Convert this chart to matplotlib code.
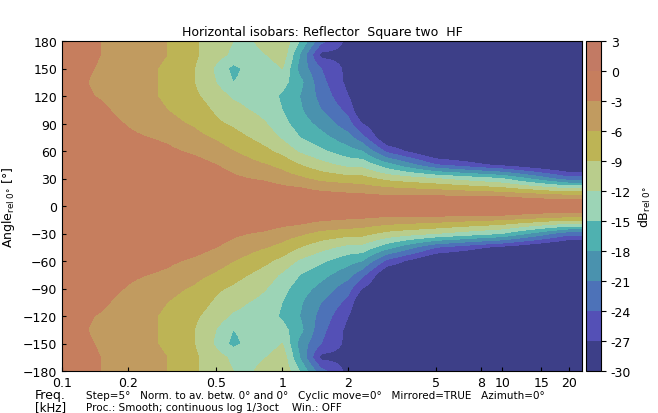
import numpy as np
import matplotlib
matplotlib.use("Agg")
import matplotlib.pyplot as plt
from matplotlib.colors import ListedColormap, BoundaryNorm

angles = [0, 10, 20, 30, 45, 60, 75, 90, 105, 120, 135, 150, 165, 180]
freqs = [0.1, 0.15, 0.2, 0.3, 0.4, 0.5, 0.6, 0.7, 0.85, 1.0, 1.2, 1.5, 2.0, 2.3, 3.0, 5.0, 10.0, 20.0, 23.0]
db_rows = [
    [0, 0, 0, 0, -0.5, -1, -1.5, -2, -2, -2, -2, -2, -2, -2],
    [0, 0, 0, 0, -0.5, -1, -1.5, -2, -2.5, -3.2, -3.5, -3.2, -3, -3],
    [0, 0, 0, -0.5, -1, -1.5, -2.5, -3.2, -4, -4.5, -4.5, -4.5, -4, -4],
    [0, 0, 0, -0.5, -1.5, -2.5, -3.5, -5, -6, -6.5, -6.5, -6.5, -6, -6],
    [0, 0, -0.5, -1, -2, -3.5, -5, -6.5, -7.5, -8.5, -9, -9, -8.5, -8.5],
    [0, 0, -0.5, -1.5, -3, -4.5, -6.5, -8.5, -9.5, -10.5, -12, -12.5, -11, -11],
    [0, -0.5, -1, -2.5, -4, -6, -8, -9.5, -11, -12.5, -15, -16, -12.5, -12],
    [0, -0.5, -1.5, -3, -5, -7, -9, -10.5, -12, -13, -14, -14, -13, -12.5],
    [0, -0.5, -2, -3.5, -6, -8.5, -10.5, -12, -13, -13.5, -14, -14, -12, -11],
    [0, -1, -2.5, -4.5, -7, -10, -12.5, -14, -15, -15.5, -14, -12, -10, -9.5],
    [0, -1, -3, -5.5, -9, -12.5, -15, -16.5, -17.5, -18, -17, -19, -18, -15],
    [0, -1.5, -4, -7, -11, -14.5, -17, -19, -21, -22, -23, -24, -28, -23],
    [0, -2, -4.5, -8, -13, -17, -20, -23, -25, -27, -28, -28, -28, -28],
    [0, -2, -5, -8, -13, -18, -23, -27, -30.5, -31, -31, -31, -31, -31],
    [0, -2.5, -6, -10, -17, -25, -30.5, -31, -31, -31, -31, -31, -31, -31],
    [0, -2.5, -7, -12, -24, -31, -31, -31, -31, -31, -31, -31, -31, -31],
    [0, -3, -9, -15, -28, -32, -32, -32, -32, -32, -32, -32, -32, -32],
    [0, -4.5, -13, -23, -32, -33, -33, -33, -33, -33, -33, -33, -33, -33],
    [0, -4.5, -13, -23, -32, -33, -33, -33, -33, -33, -33, -33, -33, -33],
]
levels = [-30, -27, -24, -21, -18, -15, -12, -9, -6, -3, 0, 3]
colors = ["#3d3f88", "#5450b6", "#4d72b8", "#4a92ae", "#4fb1b0", "#9cd4b6",
          "#b9cd8c", "#bdb455", "#c19b60", "#c67e5e", "#c27a64"]

D = np.array(db_rows, dtype=float)
A = np.array(angles, float)
lf = np.log10(freqs)
fa = np.linspace(0, 180, 181)
ff = np.linspace(lf[0], lf[-1], 400)
tmp = np.array([np.interp(fa, A, row) for row in D])
Z = np.array([np.interp(ff, lf, tmp[:, j]) for j in range(len(fa))])
full_ang = np.concatenate([-fa[::-1], fa[1:]])
Zfull = np.vstack([Z[::-1], Z[1:]])
Zfull = np.clip(Zfull, -29.99, 2.99)

fig = plt.figure(figsize=(6.58, 4.14), dpi=100)
ax = fig.add_axes([62/658, 42/414, 520/658, 330/414])
cax = fig.add_axes([586/658, 42/414, 15/658, 330/414])
cmap = ListedColormap(colors)
norm = BoundaryNorm(levels, cmap.N)
cs = ax.contourf(10**ff, full_ang, Zfull, levels=levels, cmap=cmap, norm=norm)
ax.set_xscale("log")
ax.set_xlim(0.1, 23)
ax.set_ylim(-180, 180)
xt = [0.1, 0.2, 0.5, 1, 2, 5, 8, 10, 15, 20]
ax.set_xticks(xt)
ax.set_xticklabels(["0.1", "0.2", "0.5", "1", "2", "5", "8", "10", "15", "20"])
ax.xaxis.set_minor_locator(matplotlib.ticker.NullLocator())
ax.set_yticks(range(-180, 181, 30))
ax.tick_params(labelsize=9, direction="in", length=3)
ax.set_ylabel(r"Angle$_{\mathrm{rel}\ 0°}$ [°]", fontsize=9)
ax.set_title("Horizontal isobars: Reflector  Square two  HF", fontsize=9, pad=4)
cb = fig.colorbar(cs, cax=cax, ticks=levels)
cb.ax.tick_params(labelsize=9)
cb.ax.set_yticklabels([str(l) for l in levels])
cb.set_label(r"dB$_{\mathrm{rel}\ 0°}$", fontsize=9)
fig.text(35/658, 1 - 396/414, "Freq.", fontsize=9, va="center")
fig.text(35/658, 1 - 408/414, "[kHz]", fontsize=8.5, va="center")
fig.text(86/658, 1 - 396/414,
         "Step=5°   Norm. to av. betw. 0° and 0°   Cyclic move=0°   Mirrored=TRUE   Azimuth=0°",
         fontsize=7.5, va="center")
fig.text(86/658, 1 - 408/414, "Proc.: Smooth; continuous log 1/3oct    Win.: OFF",
         fontsize=7.5, va="center")
fig.savefig("out.png", dpi=100)
